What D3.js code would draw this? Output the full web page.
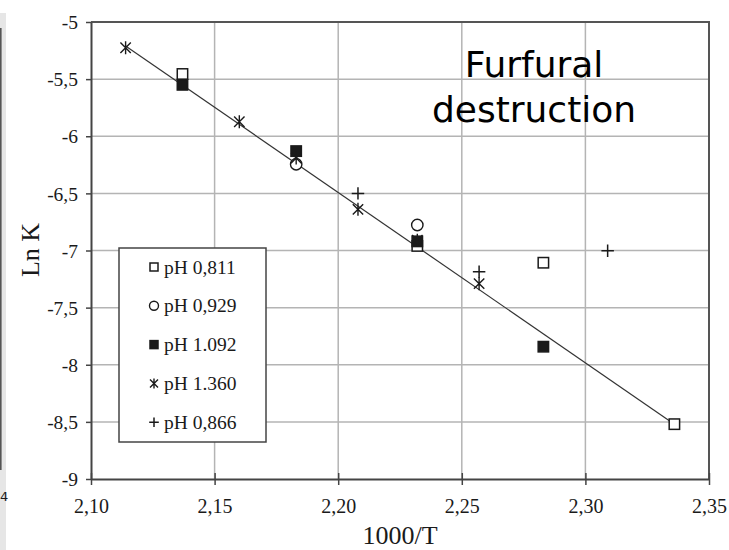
<!DOCTYPE html>
<html><head><meta charset="utf-8">
<script src="https://cdn.jsdelivr.net/npm/d3@7"></script>
<style>
html,body{margin:0;padding:0;background:#fff;}
svg{display:block;}
</style>
</head><body>
<svg id="chart" width="729" height="550"></svg>
<script>
// ---- data ----
const xTicks = [2.10, 2.15, 2.20, 2.25, 2.30, 2.35];
const yTicks = [-5, -5.5, -6, -6.5, -7, -7.5, -8, -8.5, -9];
const seriesNames = ["pH 0,811", "pH 0,929", "pH 1.092", "pH 1.360", "pH 0,866"];
const seriesSymbols = ["square", "circle", "filled", "asterisk", "plus"];
const ph0811X = [2.137, 2.232, 2.283, 2.336];
const ph0811Y = [-5.455, -6.96, -7.107, -8.52];
const ph0929X = [2.183, 2.232];
const ph0929Y = [-6.245, -6.777];
const ph1092X = [2.137, 2.183, 2.232, 2.283];
const ph1092Y = [-5.55, -6.13, -6.92, -7.842];
const ph1360X = [2.114, 2.160, 2.183, 2.208, 2.232, 2.257];
const ph1360Y = [-5.225, -5.873, -6.19, -6.64, -6.91, -7.29];
const ph0866X = [2.208, 2.257, 2.309];
const ph0866Y = [-6.50, -7.186, -7.002];
const fitX = [2.114, 2.336];
const fitY = [-5.21, -8.52];
const titleLines = ["Furfural", "destruction"];

const seriesX = [ph0811X, ph0929X, ph1092X, ph1360X, ph0866X];
const seriesY = [ph0811Y, ph0929Y, ph1092Y, ph1360Y, ph0866Y];

// ---- layout ----
const svg = d3.select("#chart");
const L = 91, R = 709, T = 22, B = 479;
const x = d3.scaleLinear().domain([2.10, 2.35]).range([L, R]);
const y = d3.scaleLinear().domain([-5, -9]).range([T, B]);
const serif = "'Liberation Serif','Times New Roman',serif";
const ink = "#1a1a1a";

// left-edge artefacts of the cropped source
svg.append("rect").attr("x", 0).attr("y", 13).attr("width", 6).attr("height", 537).attr("fill", "#e6e6e6");
svg.append("rect").attr("x", 0).attr("y", 28).attr("width", 1.6).attr("height", 442).attr("fill", "#555");
svg.append("text").attr("x", 0).attr("y", 501).attr("text-anchor", "start")
  .attr("font-family", "'DejaVu Sans',sans-serif").attr("font-size", 13).attr("fill", ink).text("4");

// plot background
svg.append("rect").attr("x", L).attr("y", T).attr("width", R - L).attr("height", B - T).attr("fill", "#fff");

// gridlines
const grid = svg.append("g").attr("stroke", "#b4b4b4").attr("stroke-width", 1.5);
xTicks.slice(1, -1).forEach(v => grid.append("line").attr("x1", x(v)).attr("x2", x(v)).attr("y1", T).attr("y2", B));
yTicks.slice(1, -1).forEach(v => grid.append("line").attr("x1", L).attr("x2", R).attr("y1", y(v)).attr("y2", y(v)));

// frame top/right
svg.append("path").attr("d", `M${L},${T}H${R}V${B}`).attr("fill", "none").attr("stroke", "#555").attr("stroke-width", 2);

// y axis
const fmtY = d => String(d).replace(".", ",");
const yAxis = svg.append("g").attr("transform", `translate(${L},0)`)
  .call(d3.axisLeft(y).tickValues(yTicks).tickFormat(fmtY).tickSizeInner(5).tickSizeOuter(0).tickPadding(8));
yAxis.select(".domain").attr("stroke", "#444").attr("stroke-width", 2);
yAxis.selectAll(".tick line").attr("stroke", "#444").attr("stroke-width", 1.5);
yAxis.selectAll(".tick text").attr("font-family", serif).attr("font-size", 19.5).attr("fill", ink).attr("dy", "0.34em");

// x axis
const fmtX = d => d3.format(".2f")(d).replace(".", ",");
const xAxis = svg.append("g").attr("transform", `translate(0,${B})`)
  .call(d3.axisBottom(x).tickValues(xTicks).tickFormat(fmtX).tickSizeInner(6).tickSizeOuter(0));
xAxis.select(".domain").attr("stroke", "#444").attr("stroke-width", 2);
xAxis.selectAll(".tick line").attr("stroke", "#444").attr("stroke-width", 1.5).attr("y1", -6).attr("y2", 6);
xAxis.selectAll(".tick text").attr("font-family", serif).attr("font-size", 20).attr("fill", ink).attr("y", 34).attr("dy", 0);

// axis titles
svg.append("text").attr("x", (L + R) / 2).attr("y", 544).attr("text-anchor", "middle")
  .attr("font-family", serif).attr("font-size", 26).attr("fill", ink).text("1000/T");
svg.append("text").attr("transform", "translate(39,250) rotate(-90)").attr("text-anchor", "middle")
  .attr("font-family", serif).attr("font-size", 26).attr("fill", ink).text("Ln K");

// fit line
svg.append("line").attr("x1", x(fitX[0])).attr("y1", y(fitY[0])).attr("x2", x(fitX[1])).attr("y2", y(fitY[1]))
  .attr("stroke", "#333").attr("stroke-width", 1.2);

// markers
function drawSymbol(g, type, cx, cy, s) {
  if (type === "square" || type === "filled") {
    g.append("rect").attr("x", cx - s).attr("y", cy - s).attr("width", 2 * s).attr("height", 2 * s)
      .attr("fill", type === "filled" ? ink : "#fff").attr("stroke", ink).attr("stroke-width", 1.5);
  } else if (type === "circle") {
    g.append("circle").attr("cx", cx).attr("cy", cy).attr("r", s + 0.5)
      .attr("fill", "#fff").attr("stroke", ink).attr("stroke-width", 1.4);
  } else if (type === "asterisk") {
    g.append("path").attr("d", `M${cx - s},${cy - s}L${cx + s},${cy + s}M${cx - s},${cy + s}L${cx + s},${cy - s}M${cx},${cy - s * 1.25}L${cx},${cy + s * 1.25}`)
      .attr("fill", "none").attr("stroke", ink).attr("stroke-width", 1.4);
  } else if (type === "plus") {
    g.append("path").attr("d", `M${cx - s * 1.2},${cy}H${cx + s * 1.2}M${cx},${cy - s * 1.2}V${cy + s * 1.2}`)
      .attr("fill", "none").attr("stroke", ink).attr("stroke-width", 1.5);
  }
}
const marks = svg.append("g");
seriesSymbols.forEach((sym, i) => {
  const g = marks.append("g");
  seriesX[i].forEach((xv, j) => drawSymbol(g, sym, x(xv), y(seriesY[i][j]), 5.2));
});

// legend
const lg = svg.append("g");
lg.append("rect").attr("x", 119).attr("y", 248).attr("width", 147).attr("height", 194)
  .attr("fill", "#fff").attr("stroke", "#444").attr("stroke-width", 1.5);
seriesNames.forEach((name, i) => {
  const cy = 267 + i * 38.8;
  drawSymbol(lg, seriesSymbols[i], 154, cy, 4);
  lg.append("text").attr("x", 164).attr("y", cy).attr("dy", "0.34em")
    .attr("font-family", serif).attr("font-size", 19.5).attr("fill", ink).text(name);
});

// annotation
titleLines.forEach((t, i) => {
  svg.append("text").attr("x", 534).attr("y", 77 + i * 45).attr("text-anchor", "middle")
    .attr("font-family", "'DejaVu Sans',sans-serif").attr("font-size", 36).attr("fill", "#000").text(t);
});
</script>
</body></html>
